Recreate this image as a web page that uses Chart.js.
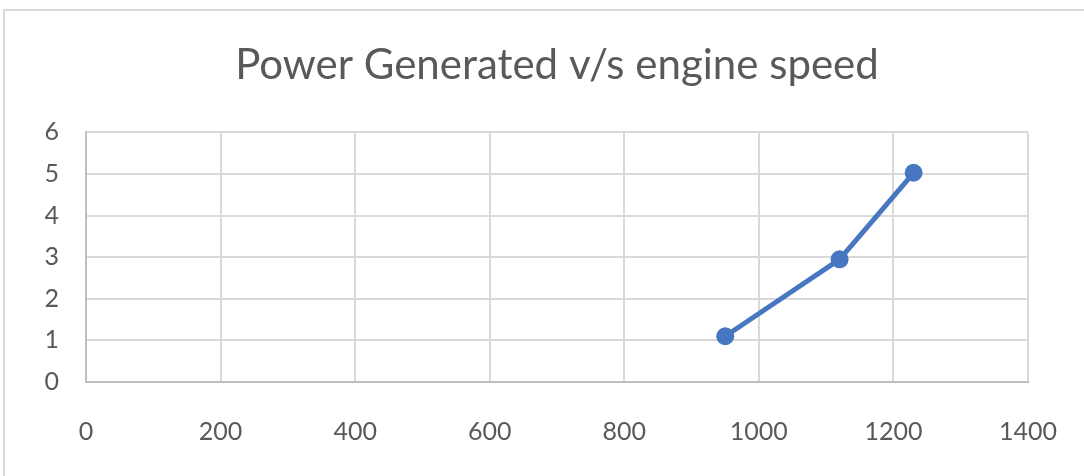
<!DOCTYPE html>
<html>
<head>
<meta charset="utf-8">
<script src="https://cdn.jsdelivr.net/npm/chart.js@4/dist/chart.umd.min.js"></script>
<style>
  html, body { margin: 0; padding: 0; background: #ffffff; }
  #wrap { position: relative; width: 1084px; height: 476px; overflow: hidden; }
  #frame { position: absolute; left: 3px; top: 9px; width: 1100px; height: 500px; border: 2px solid #d9d9d9; box-sizing: border-box; }
  canvas { position: absolute; left: 0; top: 0; }
</style>
</head>
<body>
<div id="wrap">
  <div id="frame"></div>
  <canvas id="c" width="1084" height="476"></canvas>
</div>
<script>
const chartTitle = 'Power Generated v/s engine speed';
const engineSpeed = [950, 1120, 1230];
const powerGenerated = [1.1, 2.95, 5.03];
const xTicks = [0, 200, 400, 600, 800, 1000, 1200, 1400];
const yTicks = [0, 1, 2, 3, 4, 5, 6];

const points = engineSpeed.map((x, i) => ({ x: x, y: powerGenerated[i] }));
const textColor = '#595959';
const fontFam = 'Lato, "Open Sans", sans-serif';

new Chart(document.getElementById('c'), {
  type: 'line',
  data: {
    datasets: [{
      data: points,
      borderColor: '#4677C0',
      backgroundColor: '#4677C0',
      borderWidth: 5,
      pointRadius: 9,
      pointHoverRadius: 9,
      pointBorderWidth: 0,
      tension: 0,
      fill: false
    }]
  },
  options: {
    responsive: false,
    animation: false,
    layout: { padding: { top: 10, right: 56, bottom: 0, left: 0 } },
    plugins: {
      legend: { display: false },
      tooltip: { enabled: false },
      title: {
        display: true,
        fullSize: false,
        text: chartTitle,
        color: textColor,
        font: { family: fontFam, size: 42, weight: 'normal' },
        padding: { top: 30, bottom: 42 }
      }
    },
    scales: {
      x: {
        type: 'linear',
        min: xTicks[0],
        max: xTicks[xTicks.length - 1],
        afterBuildTicks: (s) => { s.ticks = xTicks.map(v => ({ value: v })); },
        ticks: { color: textColor, font: { family: fontFam, size: 25 }, padding: 0, maxRotation: 0, autoSkip: false, callback: (v) => String(v) },
        grid: { color: '#d9d9d9', lineWidth: 2, drawTicks: true, tickLength: 35, tickColor: 'rgba(0,0,0,0)' },
        border: { color: '#bfbfbf', width: 2 },
        afterFit: (s) => { s.height = 94; }
      },
      y: {
        type: 'linear',
        min: yTicks[0],
        max: yTicks[yTicks.length - 1],
        afterBuildTicks: (s) => { s.ticks = yTicks.map(v => ({ value: v })); },
        ticks: { color: textColor, font: { family: fontFam, size: 25 }, padding: 0, callback: (v) => String(v) },
        grid: { color: '#d9d9d9', lineWidth: 2, drawTicks: true, tickLength: 27, tickColor: 'rgba(0,0,0,0)' },
        border: { color: '#bfbfbf', width: 2 },
        afterFit: (s) => { s.width = 86; }
      }
    }
  }
});
</script>
</body>
</html>
